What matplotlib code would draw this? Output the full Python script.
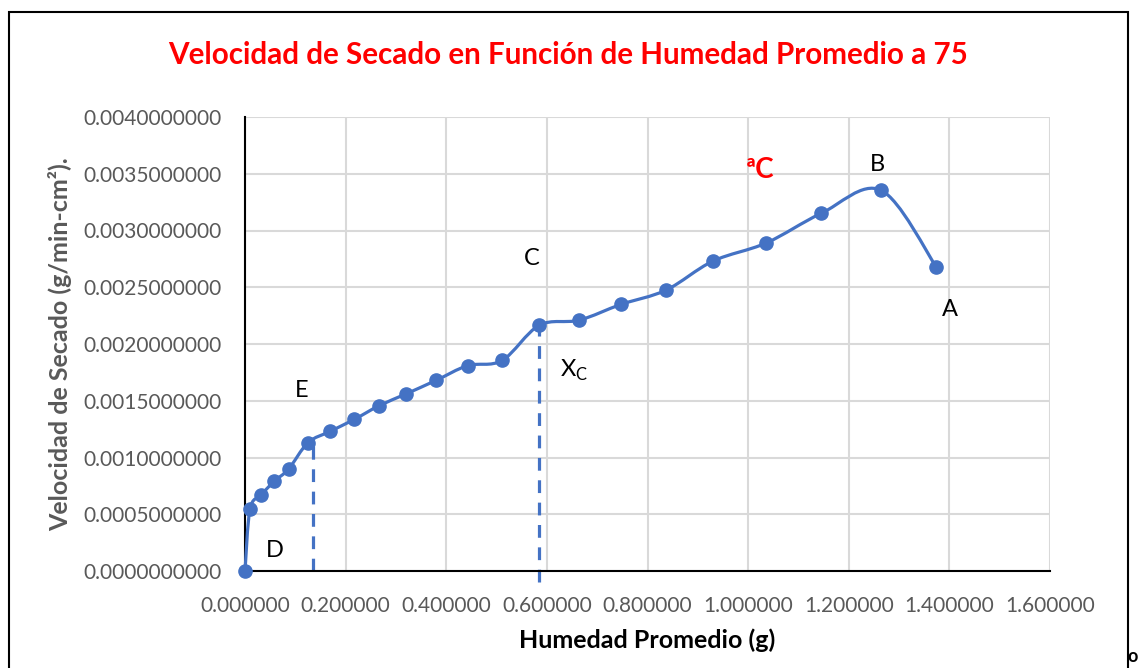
import numpy as np
import matplotlib.pyplot as plt
from matplotlib.path import Path
from matplotlib.patches import PathPatch, Rectangle

plt.rcParams['font.family'] = ['Lato', 'DejaVu Sans']

# datos
humedad = [0.000, 0.010, 0.032, 0.058, 0.087, 0.125, 0.169, 0.217, 0.266, 0.320,
           0.380, 0.443, 0.511, 0.585, 0.664, 0.748, 0.837, 0.930, 1.036, 1.145,
           1.264, 1.374]
velocidad = [0.0000000, 0.0005460, 0.0006700, 0.0007900, 0.0009000, 0.0011300,
             0.0012300, 0.0013350, 0.0014550, 0.0015600, 0.0016800, 0.0018100,
             0.0018550, 0.0021650, 0.0022100, 0.0023500, 0.0024750, 0.0027300,
             0.0028900, 0.0031500, 0.0033550, 0.0026800]

# lineas punteadas (x, y_inicio, y_fin)
guia_x = [0.136, 0.585]
guia_y0 = [0.0, -0.0001]
guia_y1 = [0.00114, 0.00214]

# etiquetas de puntos
etiquetas = ['B', 'C', 'A', 'E', 'D', 'X$_\\mathregular{C}$']
etq_x = [1.258, 0.571, 1.402, 0.113, 0.060, 0.655]
etq_y = [0.003580, 0.002750, 0.00230, 0.001590, 0.000180, 0.00177]

azul = '#4472C4'
gris = '#595959'

fig = plt.figure(figsize=(11.39, 6.68), dpi=100)
ax = fig.add_axes([245/1139, 97/668, 805/1139, 454/668])
ax.set_xlim(0, 1.6)
ax.set_ylim(0, 0.004)
ax.set_xticks(np.arange(0, 1.61, 0.2))
ax.set_yticks(np.arange(0, 0.00401, 0.0005))
ax.set_xticklabels(['%.6f' % v for v in np.arange(0, 1.61, 0.2)])
ax.set_yticklabels(['%.10f' % v for v in np.arange(0, 0.00401, 0.0005)])
ax.tick_params(length=0, labelsize=15, labelcolor=gris)
ax.tick_params(axis='x', pad=18)
ax.tick_params(axis='y', pad=17)
ax.grid(True, color='#D9D9D9', lw=1.5)
ax.set_axisbelow(True)
for s in ['top', 'right']:
    ax.spines[s].set_visible(False)
for s in ['left', 'bottom']:
    ax.spines[s].set_color('black')
    ax.spines[s].set_linewidth(1.5)

# linea suavizada estilo Excel (Bezier en pixeles)
pts = ax.transData.transform(np.column_stack([humedad, velocidad]))
n = len(pts)
verts = [pts[0]]
codes = [Path.MOVETO]
for i in range(n - 1):
    p0 = pts[max(i - 1, 0)]
    p1 = pts[i]
    p2 = pts[i + 1]
    p3 = pts[min(i + 2, n - 1)]
    verts += [p1 + (p2 - p0) / 6, p2 - (p3 - p1) / 6, p2]
    codes += [Path.CURVE4] * 3
verts = ax.transData.inverted().transform(np.array(verts))
ax.add_patch(PathPatch(Path(verts, codes), fill=False, edgecolor=azul, lw=2.3,
                       zorder=3, clip_on=False))
ax.plot(humedad, velocidad, 'o', color=azul, ms=9.5, zorder=4, clip_on=False)

for gx, a, b in zip(guia_x, guia_y0, guia_y1):
    ax.plot([gx, gx], [a, b], color=azul, lw=2.3, dashes=(4, 3), zorder=2,
            clip_on=False)

for t, x, y in zip(etiquetas, etq_x, etq_y):
    ax.text(x, y, t, fontsize=17, ha='center', va='center', color='black')

ax.text(1.024, 0.003533, 'ªC', fontsize=20, fontweight='bold', color='red',
        ha='center', va='center')

ax.set_xlabel('Humedad Promedio (g)', fontsize=18, fontweight='bold',
              color='black', labelpad=9)
ax.set_ylabel('Velocidad de Secado (g/min-cm²).', fontsize=18,
              fontweight='bold', color=gris, labelpad=8)
fig.text(568/1139, 1 - 55/668, 'Velocidad de Secado en Función de Humedad Promedio a 75',
         fontsize=21.3, fontweight='bold', color='red', ha='center', va='center')

fig.patches.append(Rectangle((9/1139, -0.05), 1119/1139, 1.05 - 12/668,
                             transform=fig.transFigure, fill=False,
                             edgecolor='black', lw=1.5))
fig.text(1133/1139, 1 - 657/668, 'o', fontsize=13, fontweight='bold',
         ha='center', va='center')

fig.savefig('out.png', dpi=100)
